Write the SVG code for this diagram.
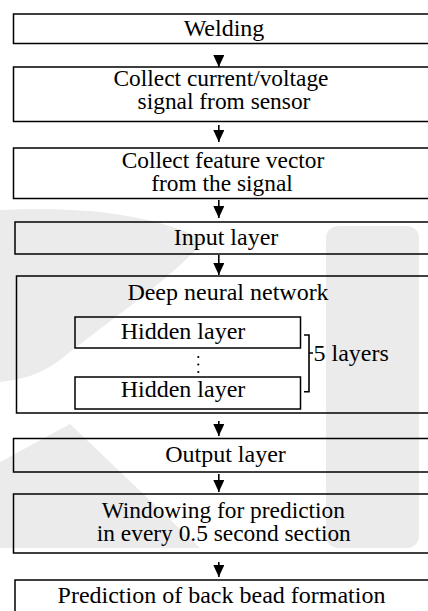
<svg xmlns="http://www.w3.org/2000/svg" width="428" height="611" viewBox="0 0 428 611">
<defs>
<style>
.box{fill:none;stroke:#000;stroke-width:1.5}
.t{font-family:"Liberation Serif","Times New Roman",serif;font-size:24px;fill:#000;text-anchor:middle}
.t2{font-size:23.4px}
.ts{font-family:"Liberation Serif","Times New Roman",serif;font-size:24px;fill:#000}
.c{stroke:#000;stroke-width:1.6;fill:none}
.wm{fill:#ebebeb}
</style>
<marker id="ah" viewBox="0 0 12 11" refX="12" refY="5.5" markerWidth="12" markerHeight="11" markerUnits="userSpaceOnUse" orient="auto">
<path d="M0,0 L12,5.5 L0,11 Z" fill="#000"/>
</marker>
</defs>
<rect width="428" height="611" fill="#fff"/>
<g id="watermark">
<path class="wm" d="M0,210 C70,206 150,212 205,240 C170,280 110,320 60,360 C40,375 20,380 0,382 Z"/>
<path class="wm" d="M0,462 L70,424 L200,548 L0,548 Z"/>
<rect class="wm" x="326" y="226" width="93" height="322" rx="12"/>
</g>
<g id="connectors">
<line class="c" x1="218.8" y1="55" x2="218.8" y2="67" marker-end="url(#ah)"/>
<line class="c" x1="218.8" y1="125" x2="218.8" y2="142" marker-end="url(#ah)"/>
<line class="c" x1="218.8" y1="200" x2="218.8" y2="218" marker-end="url(#ah)"/>
<line class="c" x1="218.8" y1="255" x2="218.8" y2="275" marker-end="url(#ah)"/>
<line class="c" x1="218.8" y1="421" x2="218.8" y2="436" marker-end="url(#ah)"/>
<line class="c" x1="218.8" y1="474" x2="218.8" y2="492" marker-end="url(#ah)"/>
<line class="c" x1="218.8" y1="562" x2="218.8" y2="577" marker-end="url(#ah)"/>
<path class="c" d="M304,335 H309 V391.7 H304 M309,353 H313"/>
</g>
<g id="welding">
<rect class="box" x="13.5" y="14" width="430" height="29.5"/>
<text class="t" x="224" y="36">Welding</text>
</g>
<g id="collect-signal">
<rect class="box" x="13.5" y="67" width="430" height="54.5"/>
<text class="t t2" x="221" y="86">Collect current/voltage</text>
<text class="t t2" x="224" y="108.5">signal from sensor</text>
</g>
<g id="collect-feature">
<rect class="box" x="13.5" y="148" width="430" height="50.5"/>
<text class="t t2" x="223" y="168">Collect feature vector</text>
<text class="t t2" x="222" y="190.5">from the signal</text>
</g>
<g id="input-layer">
<rect class="box" x="15" y="222" width="430" height="32"/>
<text class="t" x="226" y="245">Input layer</text>
</g>
<g id="dnn">
<rect class="box" x="16.5" y="276" width="430" height="137"/>
<text class="t" x="228" y="300">Deep neural network</text>
</g>
<g id="hidden-1">
<rect class="box" x="75" y="317" width="225.5" height="31"/>
<text class="t" x="183" y="338.5">Hidden layer</text>
</g>
<g id="ellipsis">
<circle cx="198.3" cy="357" r="1.1" fill="#000"/>
<circle cx="198.3" cy="364.5" r="1.1" fill="#000"/>
<circle cx="198.3" cy="372" r="1.1" fill="#000"/>
</g>
<g id="hidden-2">
<rect class="box" x="75" y="377" width="225.5" height="32"/>
<text class="t" x="183" y="397">Hidden layer</text>
</g>
<g id="five-layers">
<text class="ts" x="313.5" y="360.5">5 layers</text>
</g>
<g id="output-layer">
<rect class="box" x="13.5" y="438.5" width="430" height="33.5"/>
<text class="t" x="225.5" y="461.5">Output layer</text>
</g>
<g id="windowing">
<rect class="box" x="13.5" y="494" width="430" height="59"/>
<text class="t t2" x="223.3" y="518">Windowing for prediction</text>
<text class="t t2" x="223.8" y="540.5">in every 0.5 second section</text>
</g>
<g id="prediction">
<rect class="box" x="15" y="580" width="430" height="40"/>
<text class="t" x="221.5" y="602.5">Prediction of back bead formation</text>
</g>
</svg>
